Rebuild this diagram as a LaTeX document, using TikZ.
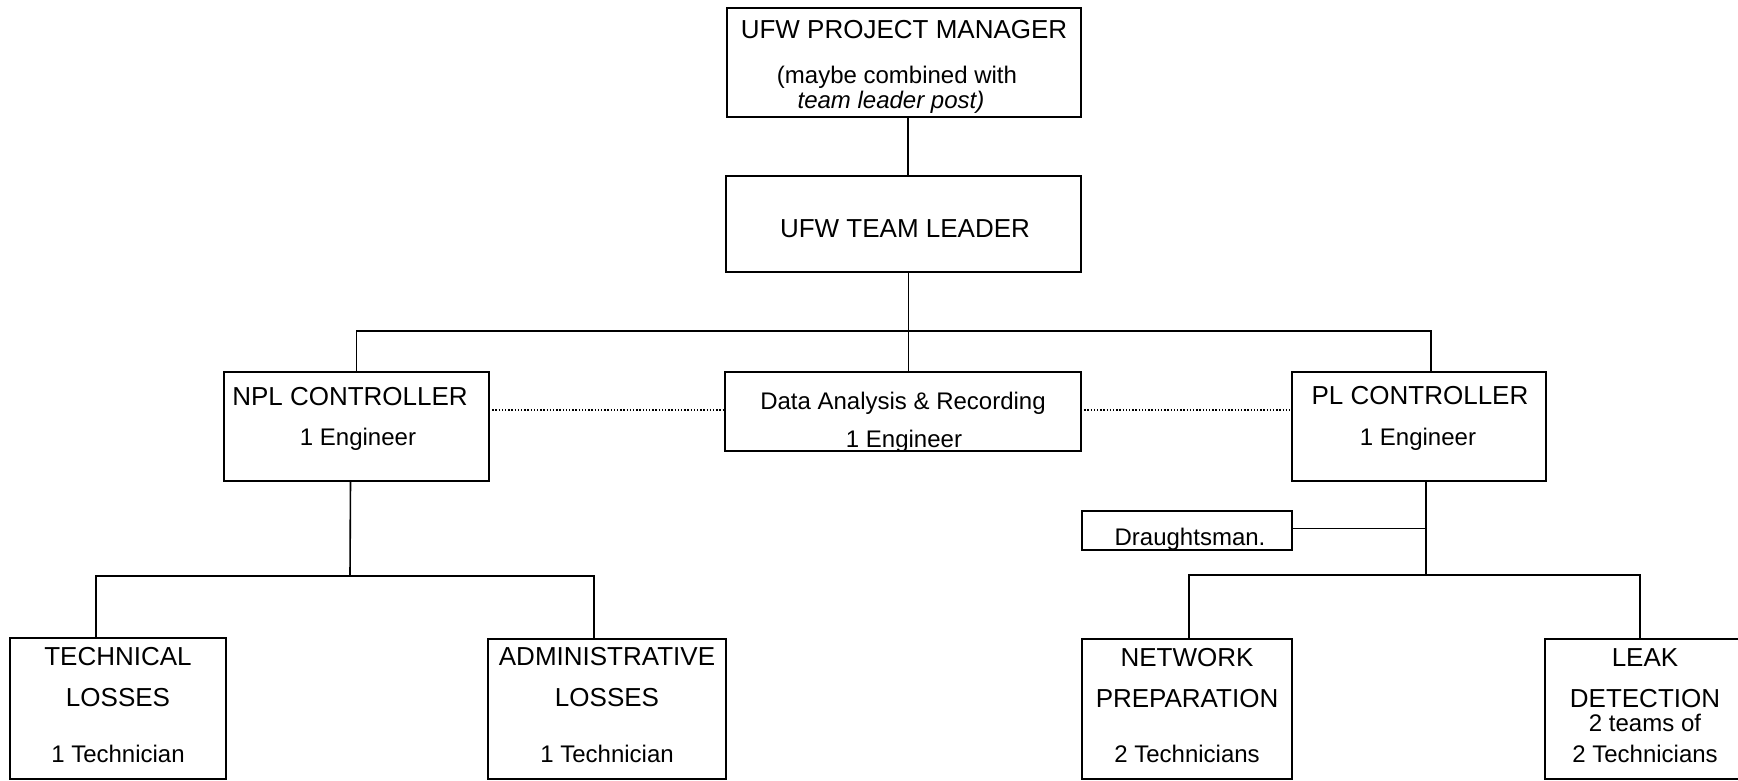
\documentclass[tikz,border=0pt]{standalone}
\usepackage{fontspec}
\setmainfont{Liberation Sans}
\begin{document}
\begin{tikzpicture}[x=1pt,y=-1pt,
  box/.style={draw=black, line width=2pt, inner sep=0pt, outer sep=0pt},
  conn/.style={draw=black, line width=1.6pt},
  dotconn/.style={draw=black, line width=1.5pt, dash pattern=on 1.4pt off 1.8pt},
  captxt/.style={inner sep=0pt, anchor=base, font=\fontsize{26}{30}\selectfont},
  subtxt/.style={inner sep=0pt, anchor=base, font=\fontsize{24}{28}\selectfont}]
\useasboundingbox (0,0) rectangle (1738,781);
\fill[white] (0,0) rectangle (1738,781);

% box from its corners: name, left, top, right, bottom
\newcommand\orgbox[5]{%
  \node[box, minimum width={#4pt-#2pt}, minimum height={#5pt-#3pt}]
    (#1) at ({(#2+#4)/2},{(#3+#5)/2}) {};}

\orgbox{pm}{727}{8}{1081}{117}
\orgbox{tl}{726}{176}{1081}{272}
\orgbox{npl}{224}{372}{489}{481}
\orgbox{data}{725}{372}{1081}{451}
\orgbox{pl}{1292}{372}{1546}{481}
\orgbox{dr}{1082}{511}{1292}{550}
\orgbox{tech}{10}{638}{226}{779}
\orgbox{adm}{488}{639}{726}{779}
\orgbox{net}{1082}{639}{1292}{779}
\orgbox{leak}{1545}{639}{1755}{779}

% texts
\node[captxt] (pmA) at (904,39) {UFW PROJECT MANAGER};
\node[subtxt] (pmB) at (897,84) {(maybe combined with};
\node[subtxt] (pmC) at (891,109) {\itshape team leader post)};
\node[captxt] (tlA) at (905,237) {UFW TEAM LEADER};
\node[captxt] (nplA) at (350,405) {NPL CONTROLLER};
\node[subtxt] (nplB) at (358,445) {1 Engineer};
\node[subtxt] (dataA) at (903,409) {Data Analysis \& Recording};
\node[subtxt] (dataB) at (904,447) {1 Engineer};
\node[captxt] (plA) at (1420,404) {PL CONTROLLER};
\node[subtxt] (plB) at (1418,445) {1 Engineer};
\node[subtxt] (drA) at (1190,545) {Draughtsman.};
\node[captxt] (techA) at (118,665) {TECHNICAL};
\node[captxt] (techB) at (118,706) {LOSSES};
\node[subtxt] (techC) at (118,762) {1 Technician};
\node[captxt] (admA) at (607,665) {ADMINISTRATIVE};
\node[captxt] (admB) at (607,706) {LOSSES};
\node[subtxt] (admC) at (607,762) {1 Technician};
\node[captxt] (netA) at (1187,666) {NETWORK};
\node[captxt] (netB) at (1187,707) {PREPARATION};
\node[subtxt] (netC) at (1187,762) {2 Technicians};
\node[captxt] (leakA) at (1645,666) {LEAK};
\node[captxt] (leakB) at (1645,707) {DETECTION};
\node[subtxt] (leakC) at (1645,731) {2 teams of};
\node[subtxt] (leakD) at (1645,762) {2 Technicians};

% junctions
\coordinate (bus) at (909,331);
\coordinate (lbus) at (350,576);
\coordinate (rbus) at (1426,575);

% connectors
\draw[conn] ([xshift=4pt]pm.south) -- ([xshift=4pt]pm.south |- tl.north);
\draw[conn] ([xshift=5pt]tl.south) -- ([xshift=5pt]tl.south |- data.north);
\draw[conn] (npl.north) |- (bus) -| ([xshift=12pt]pl.north);
\draw[conn] ([xshift=-6pt]npl.south) -- (lbus);
\draw[conn] ([xshift=-22pt]tech.north) |- (lbus) -| ([xshift=-13pt]adm.north);
\draw[conn] ([xshift=7pt]pl.south) -- (rbus);
\draw[conn] ([yshift=2pt]dr.east) -- ([yshift=2pt]dr.east -| rbus);
\draw[conn] ([xshift=2pt]net.north) |- (rbus) -| ([xshift=-10pt]leak.north);
\draw[dotconn] ([yshift=16.5pt]npl.east) -- ([yshift=16.5pt]npl.east -| data.west);
\draw[dotconn] ([yshift=1.5pt]data.east) -- ([yshift=1.5pt]data.east -| pl.west);
\end{tikzpicture}
\end{document}
